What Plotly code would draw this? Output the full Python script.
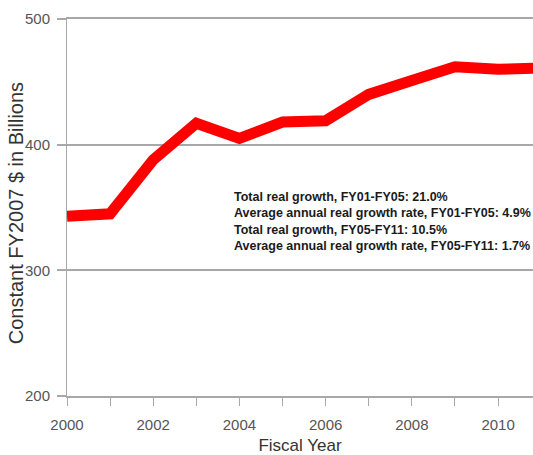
import plotly.graph_objects as go

years = [2000, 2001, 2002, 2003, 2004, 2005, 2006, 2007, 2008, 2009, 2010, 2011]
values = [343, 345, 388, 417, 405, 418, 419, 440, 451, 462, 460, 461]
x_tick_vals = [2000, 2002, 2004, 2006, 2008, 2010]
y_tick_vals = [200, 300, 400, 500]
y_title = "Constant FY2007 $ in Billions"
x_title = "Fiscal Year"
note_lines = [
    "Total real growth, FY01-FY05: 21.0%",
    "Average annual real growth rate, FY01-FY05: 4.9%",
    "Total real growth, FY05-FY11: 10.5%",
    "Average annual real growth rate, FY05-FY11: 1.7%",
]

grid = "#a8a8a8"
fig = go.Figure()
fig.add_trace(go.Scatter(x=years, y=values, mode="lines",
                         line=dict(color="#ff0000", width=11), cliponaxis=True,
                         hoverinfo="skip"))

fig.add_annotation(x=0.354, y=0.553, xref="paper", yref="paper",
                   xanchor="left", yanchor="top", align="left", showarrow=False,
                   text="<br>".join(note_lines),
                   font=dict(family="Liberation Sans", size=12.5, color="#1a1a1a", weight="bold"))

# y-axis title placed as a rotated annotation for precise positioning
fig.add_annotation(x=-0.11, y=0.484, xref="paper", yref="paper",
                   xanchor="center", yanchor="middle", textangle=-90, showarrow=False,
                   text=y_title,
                   font=dict(family="Liberation Sans", size=20, color="#333333"))

fig.update_layout(
    width=533, height=455,
    margin=dict(l=67, r=0, t=19, b=59),
    paper_bgcolor="white", plot_bgcolor="white",
    showlegend=False,
    font=dict(family="Liberation Sans", color="#555555"),
    xaxis=dict(range=[2000, 2010.81], tickvals=x_tick_vals, automargin=True,
               ticks="outside", ticklen=8, tickcolor=grid, tickwidth=1,
               ticklabelstandoff=6,
               minor=dict(dtick=1, ticks="outside", ticklen=8, tickcolor=grid, tickwidth=1),
               showgrid=False, zeroline=False,
               showline=True, linecolor=grid, linewidth=2, mirror=True,
               tickfont=dict(size=15, color="#555555"),
               title=dict(text=x_title, font=dict(size=17, color="#333333"), standoff=10)),
    yaxis=dict(range=[200, 500], tickvals=y_tick_vals, automargin=False,
               ticks="outside", ticklen=9, tickcolor=grid, tickwidth=2,
               ticklabelstandoff=4,
               showgrid=True, gridcolor=grid, gridwidth=2,
               zeroline=False, showline=True, linecolor=grid, linewidth=1,
               tickfont=dict(size=15, color="#555555")),
)
fig.write_html("out.html", config={"displayModeBar": False},
               post_script="document.body.style.margin='0';document.body.style.overflow='hidden';")
